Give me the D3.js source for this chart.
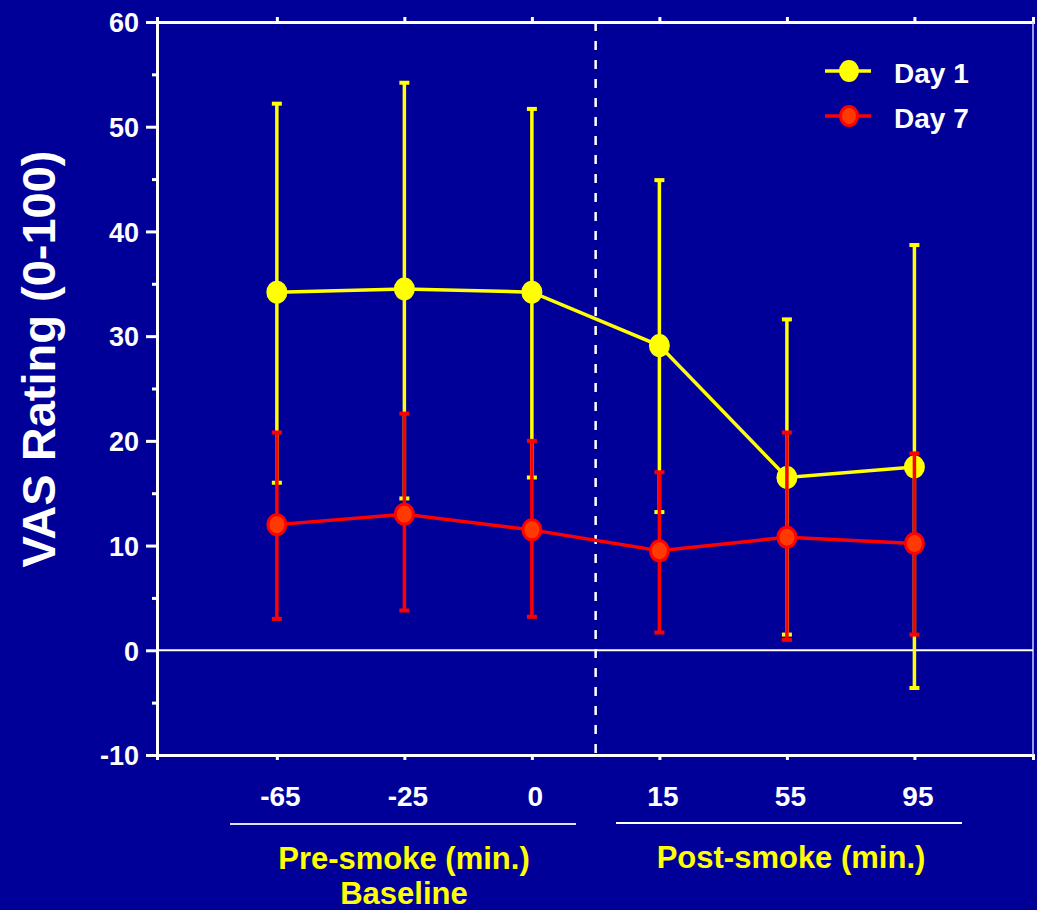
<!DOCTYPE html>
<html>
<head>
<meta charset="utf-8">
<script src="https://cdn.jsdelivr.net/npm/d3@7"></script>
<style>
  body { margin: 0; background: #000099; }
  svg { display: block; font-family: "Liberation Sans", Arial, sans-serif; font-weight: bold; }
</style>
</head>
<body>
<svg id="chart" width="1037" height="910"></svg>
<script>
// time points (min.)
var timeLabels = ["-65", "-25", "0", "15", "55", "95"];

// Day 1
var day1Mean = [34.2, 34.5, 34.2, 29.1, 16.5, 17.5];
var day1Hi   = [52.2, 54.2, 51.7, 44.9, 31.6, 38.7];
var day1Lo   = [16.0, 14.5, 16.5, 13.2, 1.5, -3.6];

// Day 7
var day7Mean = [12.0, 13.0, 11.5, 9.5, 10.8, 10.2];
var day7Hi   = [20.8, 22.6, 20.0, 17.0, 20.8, 18.8];
var day7Lo   = [3.0, 3.8, 3.2, 1.7, 1.0, 1.5];

var yTicks = [-10, 0, 10, 20, 30, 40, 50, 60];

var svg = d3.select("#chart");
var margin = {left: 157, right: 4, top: 22, bottom: 155};
var width  = 1037 - margin.left - margin.right,
    height = 910  - margin.top  - margin.bottom;

var x = d3.scaleLinear().domain([-0.94, 5.93]).range([0, width]);
var y = d3.scaleLinear().domain([-10, 60]).range([height, 0]);

var g = svg.append("g").attr("transform", "translate(" + margin.left + "," + margin.top + ")");

// left axis
var yAxis = g.append("g")
    .call(d3.axisLeft(y).tickValues(d3.range(-10, 61, 5)).tickSize(10).tickFormat(function(d){ return yTicks.indexOf(d) >= 0 ? d : ""; }));
yAxis.select(".domain").attr("stroke", "white").attr("stroke-width", 3);
yAxis.selectAll(".tick line").attr("stroke", "white").attr("stroke-width", 3)
    .attr("x2", function(d){ return yTicks.indexOf(d) >= 0 ? -11 : -5; });
yAxis.selectAll(".tick text").attr("fill", "white").attr("font-size", "27px").attr("x", -18).attr("dy", "0.36em");

// bottom axis
var xAxis = g.append("g").attr("transform", "translate(0," + height + ")")
    .call(d3.axisBottom(x).tickValues(d3.range(6)).tickSize(5).tickFormat(function(i){ return timeLabels[i]; }));
xAxis.select(".domain").attr("stroke", "white").attr("stroke-width", 3);
xAxis.selectAll(".tick line").attr("stroke", "white").attr("stroke-width", 3);
xAxis.selectAll(".tick text").attr("fill", "white").attr("font-size", "28px")
    .attr("y", 51).attr("dy", null).attr("dx", 3);

// top axis (mirror)
var topAxis = g.append("g")
    .call(d3.axisTop(x).tickValues(d3.range(6)).tickSize(5).tickFormat(""));
topAxis.select(".domain").attr("stroke", "white").attr("stroke-width", 3);
topAxis.selectAll(".tick line").attr("stroke", "white").attr("stroke-width", 3);

// right border
g.append("line").attr("x1", width).attr("x2", width).attr("y1", 0).attr("y2", height)
    .attr("stroke", "#ccccff").attr("stroke-width", 1.5);

// zero line
g.append("line").attr("x1", 0).attr("x2", width).attr("y1", y(0)).attr("y2", y(0))
    .attr("stroke", "white").attr("stroke-width", 2);

// dashed separator
g.append("line").attr("x1", x(2.5)).attr("x2", x(2.5)).attr("y1", 0).attr("y2", height)
    .attr("stroke", "white").attr("stroke-width", 2.5).attr("stroke-dasharray", "9,10");

function drawSeries(mean, lo, hi, col, fillCol) {
    var s = g.append("g");
    var idx = d3.range(mean.length);
    // error bars
    s.selectAll(".eb").data(idx).enter().append("line")
        .attr("x1", function(i){ return x(i); }).attr("x2", function(i){ return x(i); })
        .attr("y1", function(i){ return y(lo[i]); }).attr("y2", function(i){ return y(hi[i]); })
        .attr("stroke", col).attr("stroke-width", 3.5);
    s.selectAll(".capHi").data(idx).enter().append("line")
        .attr("x1", function(i){ return x(i) - 5; }).attr("x2", function(i){ return x(i) + 5; })
        .attr("y1", function(i){ return y(hi[i]); }).attr("y2", function(i){ return y(hi[i]); })
        .attr("stroke", col).attr("stroke-width", 4);
    s.selectAll(".capLo").data(idx).enter().append("line")
        .attr("x1", function(i){ return x(i) - 5; }).attr("x2", function(i){ return x(i) + 5; })
        .attr("y1", function(i){ return y(lo[i]); }).attr("y2", function(i){ return y(lo[i]); })
        .attr("stroke", col).attr("stroke-width", 4);
    // line
    s.append("path").datum(idx)
        .attr("d", d3.line().x(function(i){ return x(i); }).y(function(i){ return y(mean[i]); }))
        .attr("fill", "none").attr("stroke", col).attr("stroke-width", 3.5);
    s.selectAll("ellipse").data(idx).enter().append("ellipse")
        .attr("cx", function(i){ return x(i); }).attr("cy", function(i){ return y(mean[i]); })
        .attr("rx", 9).attr("ry", 10).attr("fill", fillCol).attr("stroke", col).attr("stroke-width", 3);
}

drawSeries(day1Mean, day1Lo, day1Hi, "#ffff00", "#ffff00");
drawSeries(day7Mean, day7Lo, day7Hi, "#ff0000", "#ff3a00");

// legend
var legend = [{name: "Day 1", col: "#ffff00", fill: "#ffff00"}, {name: "Day 7", col: "#ff0000", fill: "#ff3a00"}];
var lg = svg.append("g").attr("transform", "translate(825,71)");
legend.forEach(function(d, i) {
    var row = lg.append("g").attr("transform", "translate(0," + (i * 45) + ")");
    row.append("line").attr("x1", 0).attr("x2", 46).attr("stroke", d.col).attr("stroke-width", 3.5);
    row.append("ellipse").attr("cx", 24).attr("rx", 8.5).attr("ry", 9.5).attr("fill", d.fill).attr("stroke", d.col).attr("stroke-width", 3);
    row.append("text").attr("x", 69).attr("y", 12).attr("fill", "white").attr("font-size", "28px").text(d.name);
});

// y title
svg.append("text").attr("transform", "translate(55,359) rotate(-90)")
    .attr("text-anchor", "middle").attr("fill", "white").attr("font-size", "47px")
    .text("VAS Rating (0-100)");

// group underlines and labels
svg.append("line").attr("x1", 230).attr("x2", 576).attr("y1", 824).attr("y2", 824)
    .attr("stroke", "#e0e0ff").attr("stroke-width", 2);
svg.append("line").attr("x1", 616).attr("x2", 962).attr("y1", 823).attr("y2", 823)
    .attr("stroke", "white").attr("stroke-width", 2);

svg.append("text").attr("x", 404).attr("y", 869).attr("text-anchor", "middle")
    .attr("fill", "#ffff00").attr("font-size", "31px").text("Pre-smoke (min.)");
svg.append("text").attr("x", 404).attr("y", 904).attr("text-anchor", "middle")
    .attr("fill", "#ffff00").attr("font-size", "31px").text("Baseline");
svg.append("text").attr("x", 791).attr("y", 868).attr("text-anchor", "middle")
    .attr("fill", "#ffff00").attr("font-size", "31px").text("Post-smoke (min.)");
</script>
</body>
</html>
